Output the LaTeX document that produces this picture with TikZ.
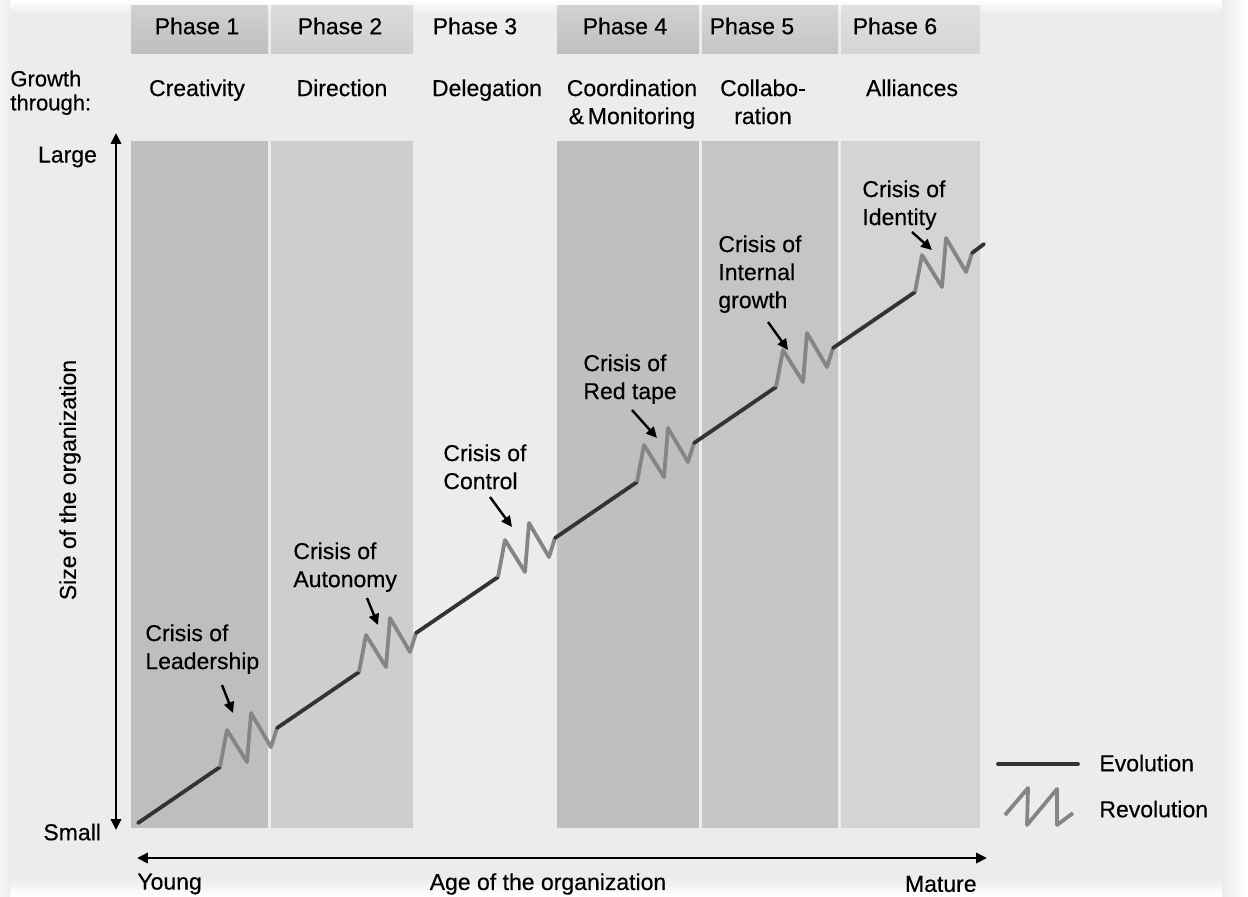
\documentclass[tikz,border=0pt]{standalone}
\usepackage{fontspec}
\setmainfont{Liberation Sans}[FakeBold=0.35]
\usepackage{xcolor}
\usetikzlibrary{arrows.meta}
\tikzset{%
  tipA/.tip={Triangle[angle=50:6pt]},
  evoline/.style={color=black!80, line width=1.9pt, line cap=round},
  revoline/.style={color=black!48, line width=1.9pt, line join=round},
  crisisarrow/.style={black, line width=1.2pt, -tipA},
  axisarrow/.style={black, line width=1.4pt, tipA-tipA},
  crisislbl/.style={anchor=north west, align=left, inner sep=0pt},
  growthlbl/.style={anchor=north, align=center, inner sep=0pt}
}
\definecolor{paper}{HTML}{ECECEC}
\definecolor{colA}{HTML}{BEBEBE}
\definecolor{colB}{HTML}{CECECE}
\definecolor{colD}{HTML}{BFBFBF}
\definecolor{colE}{HTML}{C5C5C5}
\definecolor{colF}{HTML}{D4D4D4}

\begin{document}
\begin{tikzpicture}[x=.5pt,y=-.5pt, every node/.style={font=\fontsize{11.5}{14}\selectfont}]
\useasboundingbox (0,0) rectangle (1248,896);
% paper with soft edges
\fill[paper] (0,0) rectangle (1248,896);
\shade[top color=white, bottom color=paper] (0,0) rectangle (1248,14);
\shade[top color=paper, bottom color=white] (0,878) rectangle (1248,896);
\shade[left color=paper, right color=white] (1222,0) rectangle (1248,896);
\shade[left color=white!60!paper, right color=paper] (0,0) rectangle (10,896);

% phase columns and tabs (phase 3 has none)
\foreach \xl/\xr/\c in {131/268/colA, 271/413/colB, 557/699/colD, 702/838/colE, 841/980/colF} {
  \shade[top color=\c!70!white, bottom color=\c] (\xl,5) rectangle (\xr,53);
  \fill[\c] (\xl,141) rectangle (\xr,828);
}
\foreach \x/\n in {197/1, 340/2, 475/3, 625/4, 752/5, 895/6}
  \node (ph\n) at (\x,26) {Phase \n};

% growth through
\node[anchor=north west, align=left, inner sep=0pt, font=\fontsize{11}{12}\selectfont] (growth) at (10,70) {Growth\\through:};
\node[growthlbl] (g1) at (197,79) {Creativity};
\node[growthlbl] (g2) at (342,79) {Direction};
\node[growthlbl] (g3) at (487,79) {Delegation};
\node[growthlbl] (g4) at (632,79) {Coordination\\\&\,Monitoring};
\node[growthlbl] (g5) at (763,79) {Collabo-\\ration};
\node[growthlbl] (g6) at (912,79) {Alliances};

% axes
\coordinate (yBot) at (116,830);
\coordinate (yTop) at (116,133);
\coordinate (xLeft) at (137,858);
\coordinate (xRight) at (987,858);
\draw[axisarrow] (yBot) -- (yTop);
\draw[axisarrow] (xLeft) -- (xRight);
\node[anchor=east] (large) at (104,157) {Large};
\node[anchor=east] (small) at (108,832) {Small};
\node[rotate=90] (sizeLbl) at (70,480) {Size of the organization};
\node[anchor=west, inner sep=0pt] (young) at (137,884) {Young};
\node (ageLbl) at (548,884) {Age of the organization};
\node[anchor=east, inner sep=0pt] (mature) at (977,884) {Mature};

% evolution and revolution
\foreach \i in {0,...,5} {
  \draw[evoline] ({138+139*\i},{823-95*\i}) -- ++(82,-56) coordinate (z\i);
  \draw[revoline] (z\i) -- ++(7,-37) -- ++(20,32) -- ++(4,-49) -- ++(20,34) -- ++(6,-19);
}
\draw[evoline] (972,253) -- (984,244);

% crises
\foreach \n/\xt/\yt/\txt/\ax/\ay/\bx/\by in {%
  1/145/624/{Crisis of\\Leadership}/222/685/233/713,
  2/293/542/{Crisis of\\Autonomy}/367/598/378/625,
  3/443/444/{Crisis of\\Control}/490/497/512/527,
  4/583/354/{Crisis of\\Red tape}/632/410/657/438,
  5/718/235/{Crisis of\\Internal\\growth}/768/322/788/350,
  6/862/180/{Crisis of\\Identity}/912/232/932/250} {
  \node[crisislbl] (crisis\n) at (\xt,\yt) {\txt};
  \coordinate (from\n) at (\ax,\ay);
  \coordinate (to\n) at (\bx,\by);
  \draw[crisisarrow] (from\n) -- (to\n);
}

% legend
\coordinate (evoA) at (998,764);
\coordinate (evoB) at (1078,764);
\draw[evoline] (evoA) -- (evoB);
\node[anchor=west, inner sep=0pt] (evoLbl) at (1099,763) {Evolution};
\draw[revoline] (1005,815) -- (1028,788) -- (1027,825) -- (1057,789) -- (1057,825) -- (1073,813);
\node[anchor=west, inner sep=0pt] (revoLbl) at (1099,809) {Revolution};
\end{tikzpicture}
\end{document}
